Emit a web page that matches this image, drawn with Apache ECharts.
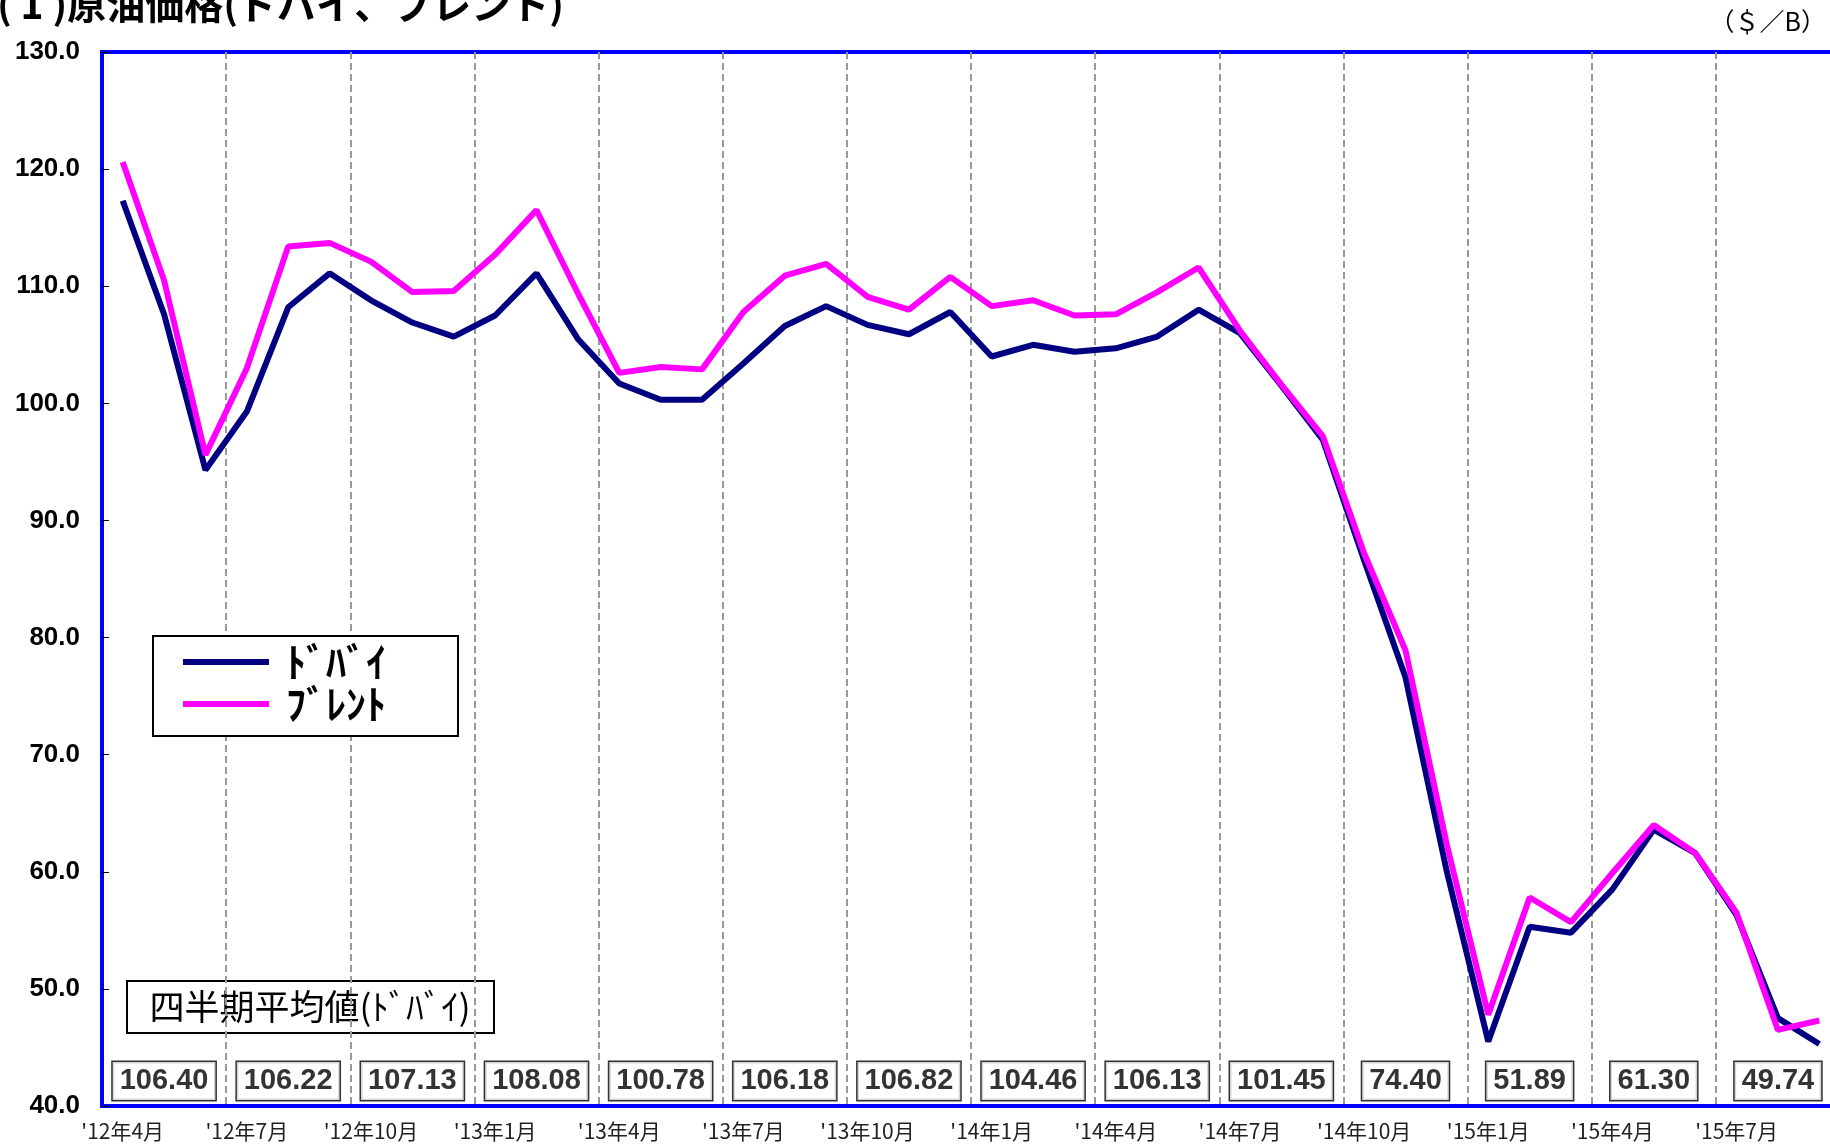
<!DOCTYPE html>
<html>
<head>
<meta charset="utf-8">
<script src="https://cdn.jsdelivr.net/npm/echarts@6/dist/echarts.min.js"></script>
<style>
  html, body { margin: 0; padding: 0; background: #fff; }
  #crudeOil { width: 1830px; height: 1145px; }
</style>
</head>
<body>
<div id="crudeOil"></div>
<script>
var months = [
  "'12年4月", "'12年5月", "'12年6月", "'12年7月", "'12年8月", "'12年9月",
  "'12年10月", "'12年11月", "'12年12月", "'13年1月", "'13年2月", "'13年3月",
  "'13年4月", "'13年5月", "'13年6月", "'13年7月", "'13年8月", "'13年9月",
  "'13年10月", "'13年11月", "'13年12月", "'14年1月", "'14年2月", "'14年3月",
  "'14年4月", "'14年5月", "'14年6月", "'14年7月", "'14年8月", "'14年9月",
  "'14年10月", "'14年11月", "'14年12月", "'15年1月", "'15年2月", "'15年3月",
  "'15年4月", "'15年5月", "'15年6月", "'15年7月", "'15年8月", "'15年9月"
];

var dubai = [
  117.3, 107.6, 94.3, 99.3, 108.2, 111.1,
  108.8, 106.9, 105.7, 107.5, 111.1, 105.5,
  101.7, 100.3, 100.3, 103.4, 106.6, 108.3,
  106.7, 105.9, 107.8, 104.0, 105.0, 104.4,
  104.7, 105.7, 108.0, 106.0, 101.5, 96.9,
  86.6, 76.6, 60.0, 45.5, 55.3, 54.8,
  58.5, 63.6, 61.6, 56.3, 47.5, 45.3
];

var brent = [
  120.6, 110.5, 95.6, 103.0, 113.4, 113.7,
  112.1, 109.5, 109.6, 112.7, 116.5, 109.4,
  102.6, 103.1, 102.9, 107.8, 110.9, 111.9,
  109.1, 108.0, 110.8, 108.3, 108.8, 107.5,
  107.6, 109.5, 111.6, 106.2, 101.6, 97.2,
  87.2, 78.9, 62.3, 47.8, 57.8, 55.7,
  59.9, 64.0, 61.6, 56.5, 46.5, 47.3
];

// quarterly averages (Dubai), one per quarter starting '12 Q2
var quarterAvg = [
  106.40, 106.22, 107.13, 108.08, 100.78, 106.18, 106.82,
  104.46, 106.13, 101.45, 74.40, 51.89, 61.30, 49.74
];

var yTicks = [40, 130, 10];

var chart = echarts.init(document.getElementById('crudeOil'));

var avgBoxes = quarterAvg.map(function (v, q) {
  return [1 + q * 3, 42.13, v];
});

var option = {
  animation: false,
  backgroundColor: '#fff',
  grid: {
    left: 102, width: 1738, top: 52, bottom: 39,
    outerBoundsMode: 'none',
    show: true, borderColor: '#0000ff', borderWidth: 4
  },
  legend: {
    left: 153, top: 636, orient: 'vertical',
    data: ['ﾄﾞﾊﾞｲ', 'ﾌﾞﾚﾝﾄ'],
    selectedMode: false,
    icon: 'rect', itemWidth: 86, itemHeight: 6, itemGap: 2,
    padding: [6, 72, 12, 30],
    backgroundColor: '#fff', borderColor: '#000', borderWidth: 2, borderRadius: 0,
    textStyle: {
      fontFamily: 'Noto Sans CJK JP', fontWeight: 'bold', fontSize: 40,
      lineHeight: 40, color: '#000', padding: [0, 0, 0, 12]
    }
  },
  xAxis: {
    type: 'category',
    data: months,
    boundaryGap: true,
    axisLine: { show: false },
    axisTick: { show: false },
    axisLabel: {
      interval: function (i) { return i % 3 === 0; },
      margin: 15,
      fontFamily: 'Noto Sans CJK JP', fontSize: 21, color: '#222'
    },
    splitLine: {
      show: true,
      interval: function (i) { return i > 0 && i % 3 === 0; },
      lineStyle: { color: '#999', width: 2, type: [7, 4] }
    }
  },
  yAxis: {
    type: 'value',
    min: yTicks[0], max: yTicks[1], interval: yTicks[2],
    axisLine: { show: false },
    axisTick: { show: true, inside: true, length: 7, lineStyle: { color: '#000', width: 1 } },
    splitLine: { show: false },
    axisLabel: {
      margin: 22,
      formatter: function (v) { return v.toFixed(1); },
      fontFamily: 'Liberation Sans', fontWeight: 'bold', fontSize: 26, color: '#000'
    }
  },
  series: [
    {
      name: 'ﾄﾞﾊﾞｲ', type: 'line', data: dubai,
      symbol: 'none', color: '#000080',
      lineStyle: { color: '#000080', width: 6 }, z: 3
    },
    {
      name: 'ﾌﾞﾚﾝﾄ', type: 'line', data: brent,
      symbol: 'none', color: '#ff00ff',
      lineStyle: { color: '#ff00ff', width: 6 }, z: 4
    },
    {
      name: 'avg', type: 'scatter', data: avgBoxes,
      symbolSize: 0, z: 5, silent: true,
      label: {
        show: true, position: 'inside',
        formatter: function (p) { return p.value[2].toFixed(2); },
        fontFamily: 'Liberation Sans', fontWeight: 'bold', fontSize: 29, color: '#000',
        backgroundColor: '#fff', borderColor: '#000', borderWidth: 1.5,
        padding: [6, 7, 3, 7]
      }
    }
  ],
  graphic: [
    {
      type: 'text', left: -3, top: -15,
      style: {
        text: '( 1 )原油価格(ドバイ、ブレント)',
        fontFamily: 'Noto Sans CJK JP', fontWeight: 'bold', fontSize: 39, fill: '#000'
      }
    },
    {
      type: 'text', right: 4, top: 9,
      style: {
        text: '（＄／B）',
        fontFamily: 'Noto Sans CJK JP', fontSize: 25, fill: '#000'
      }
    },
    {
      type: 'group', left: 126, top: 980,
      children: [
        {
          type: 'rect', shape: { x: 0, y: 0, width: 367, height: 52 },
          style: { fill: '#fff', stroke: '#000', lineWidth: 2 }
        },
        {
          type: 'text', x: 183, y: 26,
          style: {
            text: '四半期平均値(ﾄﾞﾊﾞｲ)', align: 'center', verticalAlign: 'middle',
            fontFamily: 'Noto Sans CJK JP', fontSize: 35, fill: '#000'
          }
        }
      ]
    }
  ]
};

chart.setOption(option);
</script>
</body>
</html>
